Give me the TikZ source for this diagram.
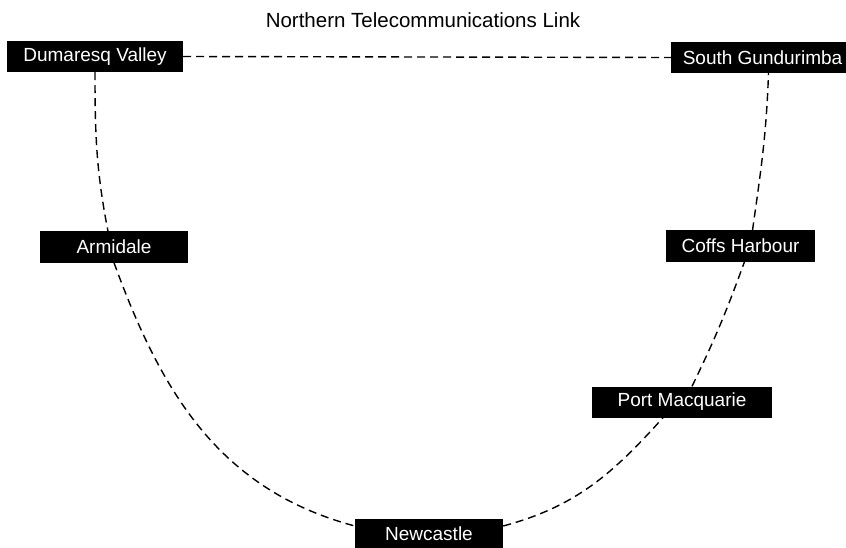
\documentclass[tikz,border=0pt]{standalone}
\usepackage{fontspec}
\setmainfont{Liberation Sans}
\begin{document}
\begin{tikzpicture}[x=1pt,y=-1pt,
  place/.style={fill=black,text=white,inner sep=0pt,minimum height=31pt,
    font=\fontsize{19}{22}\selectfont},
  link/.style={draw=black,line width=1.4pt,dash pattern=on 8pt off 5pt},
  title/.style={font=\fontsize{20.5}{24}\selectfont}]
\useasboundingbox (0,0) rectangle (846,548);
\node[title] (t) at (423,20) {Northern Telecommunications Link};
\node[place,minimum width=176pt] (dv) at (95,56.5) {Dumaresq Valley};
\node[place,minimum width=183pt] (sg) at (762.5,57.5) {South Gundurimba};
\node[place,minimum width=148pt] (arm) at (114,247) {Armidale};
\node[place,minimum width=149pt] (coffs) at (740.5,246) {Coffs Harbour};
\node[place,minimum width=180pt] (pm) at (682,402) {Port Macquarie};
\node[place,minimum width=148pt] (nc) at (429,534) {Newcastle};
\draw[link] (dv.east) -- (sg.west);
\draw[link] (dv.south) to[out=-90,in=101] ([xshift=-6pt]arm.north);
\draw[link] (arm.south) to[out=-70,in=165] ([yshift=8pt]nc.west);
\draw[link] ([yshift=8pt]nc.east) to[out=15,in=-132] ([xshift=-19pt]pm.south);
\draw[link] ([xshift=10pt]pm.north) to[out=64,in=-110] ([xshift=4pt]coffs.south);
\draw[link] ([xshift=12pt]coffs.north) to[out=82,in=-92] ([xshift=6pt]sg.south);
\end{tikzpicture}
\end{document}
